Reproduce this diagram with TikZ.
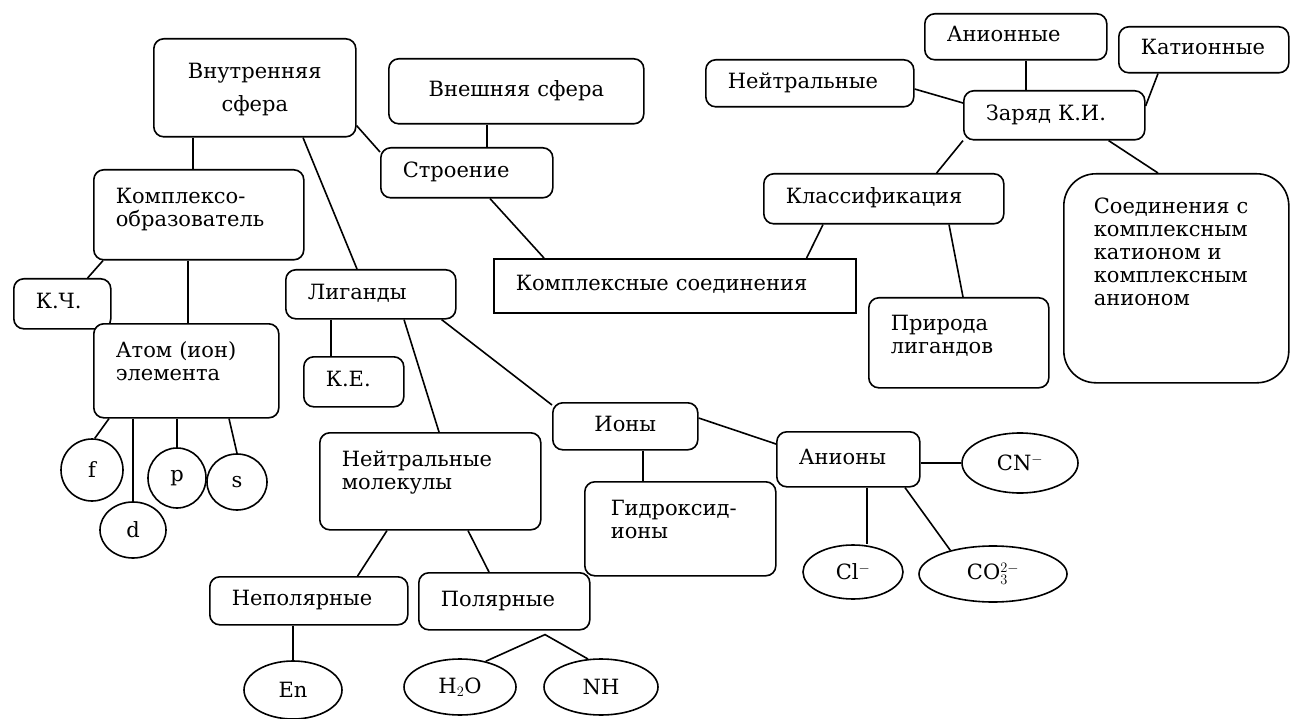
\documentclass[tikz,border=0pt]{standalone}
\usepackage{fontspec}
\setmainfont{DejaVu Serif}
\usepackage{tikz}
\usetikzlibrary{shapes.geometric}

\begin{document}
\begin{tikzpicture}[
          x=1pt, y=-1pt,
          box/.style={draw, fill=white, line width=1.6pt, rounded corners=10pt, anchor=north west,
                      align=left, inner xsep=22pt, inner ysep=0pt,
                      text height=15pt, text depth=5pt,
                      font=\fontsize{21}{23}\selectfont},
          oval/.style={draw, fill=white, ellipse, line width=1.6pt, inner sep=0pt,
                       font=\fontsize{21}{23}\selectfont},
          link/.style={line width=1.6pt},
        ]
        \path[use as bounding box, fill=white] (0,0) rectangle (1290,719);

        \node[box, text width=158pt, align=center, text height=40pt, text depth=58pt] (vnutr) at (153,38) {Внутренняя\\[10pt]сфера};
        \node[box, text width=211pt, minimum height=65pt, align=center] (vnesh) at (388,58) {Внешняя~сфера};
        \node[box, text width=128pt, minimum height=50pt] (stroenie) at (380,147) {Строение};
        \node[box, sharp corners, text width=318pt, minimum height=54pt] (kompsoed) at (493,258) {Комплексные~соединения};
        \node[box, text width=166pt, text height=34pt, text depth=56pt] (kompl) at (93,169) {Комплексо-\\образователь};
        \node[box, text width=53pt, minimum height=50pt] (kch) at (13,278) {К.Ч.};
        \node[box, text width=141pt, text height=34pt, text depth=60pt] (atom) at (93,323) {Атом~(ион)\\элемента};
        \node[box, text width=126pt, minimum height=49pt] (ligandy) at (285,269) {Лиганды};
        \node[box, text width=56pt, minimum height=50pt] (ke) at (303,356) {К.Е.};
        \node[box, text width=177pt, text height=34pt, text depth=63pt] (neitrmol) at (319,432) {Нейтральные\\молекулы};
        \node[box, text width=154pt, minimum height=48pt] (nepol) at (209,576) {Неполярные};
        \node[box, text width=127pt, minimum height=57pt] (pol) at (418,572) {Полярные};
        \node[box, text width=101pt, minimum height=47pt, align=center] (iony) at (552,402) {Ионы};
        \node[box, text width=139pt, inner xsep=26pt, text height=34pt, text depth=60pt] (gidr) at (584,481) {Гидроксид-\\ионы};
        \node[box, text width=99pt, minimum height=55pt] (aniony) at (776,431) {Анионы};
        \node[box, text width=196pt, minimum height=50pt] (klass) at (763,173) {Классификация};
        \node[box, text width=136pt, text height=33pt, text depth=57pt] (priroda) at (868,297) {Природа\\лигандов};
        \node[box, text width=137pt, minimum height=49pt] (zaryad) at (963,90) {Заряд~К.И.};
        \node[box, text width=164pt, minimum height=47pt] (neitr) at (705,59) {Нейтральные};
        \node[box, text width=138pt, minimum height=46pt] (anionnye) at (924,13) {Анионные};
        \node[box, text width=126pt, minimum height=46pt] (kationnye) at (1118,26) {Катионные};
        \node[box, rounded corners=32pt, inner xsep=30pt, text width=165pt, text height=40pt, text depth=169pt] (soed) at (1063,173) {Соединения~с\\комплексным\\катионом~и\\комплексным\\анионом};

        \node[oval, minimum width=62pt, minimum height=62pt] (f) at (92,470) {f};
        \node[oval, minimum width=66pt, minimum height=56pt] (d) at (133,530) {d};
        \node[oval, minimum width=58pt, minimum height=60pt] (p) at (177,478) {p};
        \node[oval, minimum width=60pt, minimum height=56pt] (s) at (237,482) {s};
        \node[oval, minimum width=98pt, minimum height=58pt] (en) at (293,690) {En};
        \node[oval, minimum width=112pt, minimum height=56pt] (h2o) at (460,687) {H$_2$O};
        \node[oval, minimum width=114pt, minimum height=56pt] (nh) at (601,687) {NH};
        \node[oval, minimum width=116pt, minimum height=60pt] (cn) at (1020,463) {CN$^-$};
        \node[oval, minimum width=100pt, minimum height=54pt] (cl) at (853,572) {Cl$^-$};
        \node[oval, minimum width=148pt, minimum height=56pt] (co3) at (993,574) {CO$_3^{2-}$};
        \coordinate (polj) at ([xshift=127pt, yshift=-4pt]pol.south west);

        \draw[link] ([xshift=40pt]vnutr.south west) -- ([xshift=100pt]kompl.north west);
        \draw[link] ([xshift=150pt]vnutr.south west) -- ([xshift=72pt]ligandy.north west);
        \draw[link] ([yshift=12pt]vnutr.south east) -- ([yshift=-5pt]stroenie.north west);
        \draw[link] ([xshift=99pt]vnesh.south west) -- ([xshift=107pt]stroenie.north west);
        \draw[link] ([xshift=110pt]stroenie.south west) -- ([xshift=51pt]kompsoed.north west);
        \draw[link] ([xshift=10pt]kompl.south west) -- ([xshift=-24pt]kch.north east);
        \draw[link] ([xshift=95pt]kompl.south west) -- ([xshift=95pt]atom.north west);
        \draw[link] ([xshift=16pt]atom.south west) -- (f.85);
        \draw[link] ([xshift=40pt]atom.south west) -- (d.north);
        \draw[link] ([xshift=84pt]atom.south west) -- (p.north);
        \draw[link] ([xshift=136pt]atom.south west) -- (s.north);
        \draw[link] ([xshift=46pt]ligandy.south west) -- ([xshift=28pt]ke.north west);
        \draw[link] ([xshift=119pt]ligandy.south west) -- ([xshift=120pt]neitrmol.north west);
        \draw[link] ([xshift=-15pt]ligandy.south east) -- ([yshift=-3pt]iony.north west);
        \draw[link] ([xshift=91pt]iony.south west) -- ([xshift=59pt]gidr.north west);
        \draw[link] ([yshift=-16pt]iony.north east) -- ([yshift=-13pt]aniony.north west);
        \draw[link] ([yshift=-32pt]aniony.north east) -- (cn.west);
        \draw[link] ([xshift=91pt]aniony.south west) -- ([xshift=14pt]cl.north);
        \draw[link] ([xshift=129pt]aniony.south west) -- (co3.151);
        \draw[link] ([xshift=60pt]klass.south west) -- ([xshift=-50pt]kompsoed.north east);
        \draw[link] ([xshift=186pt]klass.south west) -- ([xshift=95pt]priroda.north west);
        \draw[link] (zaryad.south west) -- ([xshift=-68pt]klass.north east);
        \draw[link] ([yshift=-13pt]zaryad.north west) -- ([yshift=-30pt]neitr.north east);
        \draw[link] ([xshift=63pt]zaryad.north west) -- ([xshift=102pt]anionnye.south west);
        \draw[link] ([yshift=-16pt]zaryad.north east) -- ([xshift=40pt]kationnye.south west);
        \draw[link] ([xshift=-37pt]zaryad.south east) -- ([xshift=95pt]soed.north west);
        \draw[link] ([xshift=68pt]neitrmol.south west) -- ([xshift=-51pt]nepol.north east);
        \draw[link] ([xshift=149pt]neitrmol.south west) -- ([xshift=71pt]pol.north west);
        \draw[link] ([xshift=84pt]nepol.south west) -- (en.north);
        \draw[link] (h2o.45) -- (polj) -- (nh.115);
      \end{tikzpicture}
\end{document}
